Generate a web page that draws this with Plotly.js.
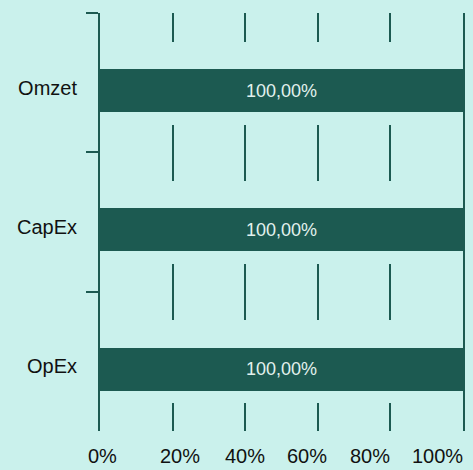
<!DOCTYPE html>
<html>
<head>
<meta charset="utf-8">
<script src="https://cdn.plot.ly/plotly-3.0.1.min.js"></script>
<style>html,body{margin:0;padding:0;background:#caf1ec;}#chart{width:473px;height:470px;}</style>
</head>
<body>
<div id="chart"></div>
<script>
var categories = ['Omzet', 'CapEx', 'OpEx'];
var shares = [1.0, 1.0, 1.0];
var gridTicks = [0, 0.2, 0.4, 0.6, 0.8, 1.0];
var tickLabels = ['0%', '20%', '40%', '60%', '80%', '100%'];
var labelSpots = [0.008, 0.22, 0.399, 0.57, 0.744, 0.931];

var dark = '#1c5a51';
var bg = '#caf1ec';
var font = 'Liberation Sans, Arial, sans-serif';

var barText = shares.map(function (v) {
  return (v * 100).toFixed(2).replace('.', ',') + '%';
});

var trace = {
  type: 'bar',
  orientation: 'h',
  y: categories,
  x: shares,
  width: 0.309,
  offset: -0.098,
  marker: { color: dark, line: { width: 0 } },
  text: barText,
  textposition: 'inside',
  insidetextanchor: 'middle',
  textangle: 0,
  insidetextfont: { family: font, size: 18, color: '#e2f1ed' },
  hoverinfo: 'skip',
  showlegend: false
};

var annotations = tickLabels.map(function (t, i) {
  return {
    text: t,
    x: labelSpots[i],
    xref: 'x',
    y: -0.059,
    yref: 'paper',
    xanchor: 'center',
    yanchor: 'middle',
    showarrow: false,
    font: { family: font, size: 20, color: '#111111' }
  };
});

var layout = {
  width: 473,
  height: 470,
  margin: { l: 100, r: 10, t: 13, b: 39, pad: 0 },
  paper_bgcolor: bg,
  plot_bgcolor: bg,
  font: { family: font, size: 20, color: '#111111' },
  showlegend: false,
  bargap: 0,
  annotations: annotations,
  xaxis: {
    range: [0, 1],
    tickvals: gridTicks,
    showticklabels: false,
    ticks: '',
    showgrid: true,
    gridcolor: dark,
    gridwidth: 2,
    griddash: '29px,83px,56px,83px,56px,83px,29px',
    zeroline: false,
    showline: false,
    fixedrange: true
  },
  yaxis: {
    type: 'category',
    categoryorder: 'array',
    categoryarray: categories,
    autorange: 'reversed',
    tickson: 'boundaries',
    ticks: 'outside',
    ticklen: 12,
    tickwidth: 2,
    tickcolor: dark,
    showline: true,
    linecolor: dark,
    linewidth: 2,
    mirror: true,
    showgrid: false,
    zeroline: false,
    ticklabelshift: -5,
    ticklabelstandoff: 17,
    tickfont: { family: font, size: 20, color: '#111111' },
    fixedrange: true
  }
};

Plotly.newPlot('chart', [trace], layout, { displayModeBar: false, staticPlot: true });
</script>
</body>
</html>
